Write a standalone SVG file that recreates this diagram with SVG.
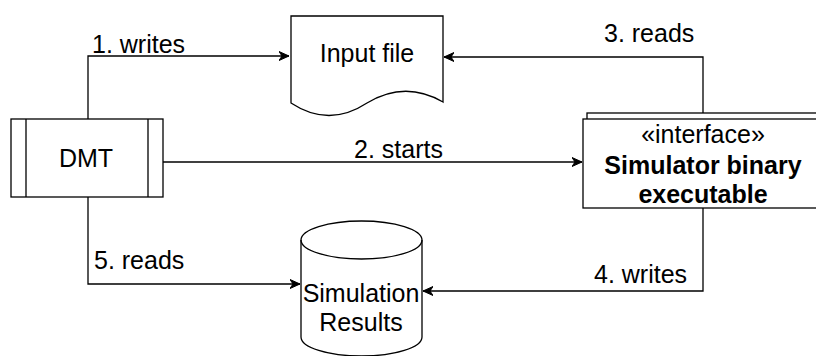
<svg xmlns="http://www.w3.org/2000/svg" width="816" height="356" viewBox="0 0 816 356">
<style>
.s{fill:#fff;stroke:#000;stroke-width:1.3}
.c{fill:none;stroke:#000;stroke-width:1.3}
text{font-family:"Liberation Sans",Arial,sans-serif;font-size:25px;fill:#000}
.m{text-anchor:middle}
.b{font-weight:bold}
</style>
<defs>
<marker id="a" markerWidth="12" markerHeight="10" refX="10" refY="5" orient="auto" markerUnits="userSpaceOnUse">
<path d="M0,0.5 L10,5 L0,9.5 L3,5 Z" fill="#000" stroke="#000" stroke-width="1"/>
</marker>
</defs>
<g id="connectors">
<path class="c" d="M88,119 V56 H289" marker-end="url(#a)"/>
<path class="c" d="M703,113 V57 H444" marker-end="url(#a)"/>
<path class="c" d="M163,162 H582" marker-end="url(#a)"/>
<path class="c" d="M703,208 V291 H423" marker-end="url(#a)"/>
<path class="c" d="M88,197 V284 H300" marker-end="url(#a)"/>
<text x="92" y="53">1. writes</text>
<text x="604" y="42">3. reads</text>
<text x="354" y="158">2. starts</text>
<text x="594" y="283">4. writes</text>
<text x="94" y="269">5. reads</text>
</g>
<g id="dmt">
<rect class="s" x="11" y="119" width="152" height="78"/>
<path class="c" d="M26,119 V197 M148,119 V197"/>
<text class="m" x="86" y="167">DMT</text>
</g>
<g id="input-file">
<path class="s" d="M291,16 H443 V102 Q405,80 367,103 Q329,128 291,103 Z"/>
<text class="m" x="367" y="62">Input file</text>
</g>
<g id="simulator">
<rect class="s" x="587" y="113" width="240" height="89"/>
<rect class="s" x="583" y="119" width="240" height="89"/>
<text class="m" x="703" y="143">«interface»</text>
<text class="m b" x="703" y="174">Simulator binary</text>
<text class="m b" x="703" y="203">executable</text>
</g>
<g id="results">
<path class="s" d="M301,240 V337 A60.5,19 0 0 0 422,337 V240 A60.5,19 0 0 0 301,240 Z"/>
<path class="c" d="M301,240 A60.5,19 0 0 0 422,240"/>
<text class="m" x="361" y="302">Simulation</text>
<text class="m" x="361" y="331">Results</text>
</g>
</svg>
